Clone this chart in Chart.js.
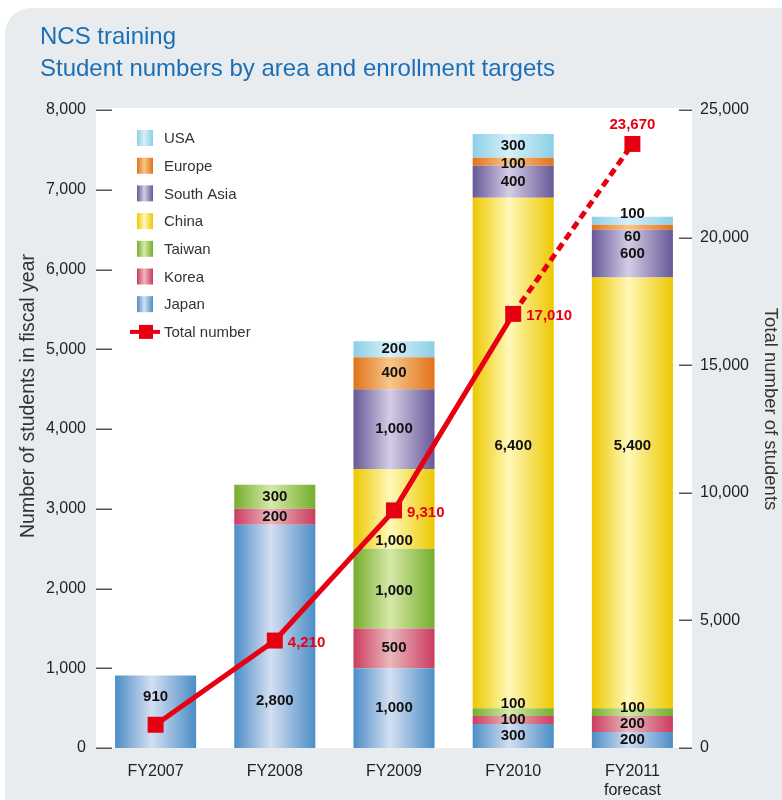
<!DOCTYPE html>
<html>
<head>
<meta charset="utf-8">
<script src="https://cdn.jsdelivr.net/npm/chart.js@4.4.0/dist/chart.umd.min.js"></script>
<style>
  html, body { margin: 0; padding: 0; background: #fff; }
  #wrap { width: 782px; height: 800px; }
</style>
</head>
<body>
<div id="wrap"><canvas id="ncsChart" width="782" height="800"></canvas></div>
<script>
// values
const categories = ['FY2007', 'FY2008', 'FY2009', 'FY2010', ['FY2011', 'forecast']];
const japan = [910, 2800, 1000, 300, 200];
const korea = [0, 200, 500, 100, 200];
const taiwan = [0, 300, 1000, 100, 100];
const china = [0, 0, 1000, 6400, 5400];
const southAsia = [0, 0, 1000, 400, 600];
const europe = [0, 0, 400, 100, 60];
const usa = [0, 0, 200, 300, 100];
const totals = [910, 4210, 9310, 17010, 23670];
const leftMax = 8000, leftStep = 1000;
const rightMax = 25000, rightStep = 5000;

const FONT = '"Liberation Sans", Arial, Helvetica, sans-serif';
const BAR_PCT = 0.68;
const RED = '#e60012';

// edge colour, centre highlight
const palette = {
    Japan: ['#4b8dc6', '#d4dff2'],
    Korea: ['#cc3b60', '#e9b9bc'],
    Taiwan: ['#76ad2c', '#d6e9a9'],
    China: ['#edc800', '#fff8b8'],
    'South Asia': ['#675897', '#d5cde6'],
    Europe: ['#e1731a', '#f8c688'],
    USA: ['#8ccfe7', '#d8f0f8']
};

function barFill(name) {
    const [edge, mid] = palette[name];
    return function (c) {
        const chart = c.chart;
        if (!chart.chartArea || c.dataIndex === undefined) return edge;
        const xs = chart.scales.x;
        const cx = xs.getPixelForValue(c.dataIndex);
        const half = xs.width / categories.length * BAR_PCT / 2;
        const g = chart.ctx.createLinearGradient(cx - half, 0, cx + half, 0);
        g.addColorStop(0, edge);
        g.addColorStop(0.45, mid);
        g.addColorStop(1, edge);
        return g;
    };
}

function barSet(name, data) {
    return {
        type: 'bar',
        label: name,
        data: data,
        backgroundColor: barFill(name),
        borderWidth: 0,
        stack: 'areas',
        yAxisID: 'y',
        order: 1,
        barPercentage: BAR_PCT,
        categoryPercentage: 1
    };
}

const fmt = v => v.toLocaleString('en-US');

// small label shifts so texts do not collide (datasetIndex-dataIndex: px)
const labelNudge = {
    '0-0': -15, '0-1': 65, '2-2': 2, '3-2': 32,
    '2-3': -8, '3-3': -7, '5-3': 2,
    '6-4': -7, '5-4': 10, '3-4': -47, '2-4': -4
};

const decor = {
    id: 'decor',
    beforeDraw(chart) {
        const ctx = chart.ctx;
        const a = chart.chartArea;
        ctx.save();
        ctx.fillStyle = '#fff';
        ctx.fillRect(0, 0, chart.width, chart.height);
        ctx.fillStyle = '#e8ecef';
        ctx.beginPath();
        ctx.roundRect(5, 8, chart.width + 40, chart.height + 40, 26);
        ctx.fill();
        ctx.fillStyle = '#fff';
        ctx.fillRect(a.left, a.top - 2, a.right - a.left, a.bottom - a.top + 2);
        ctx.restore();
    },
    beforeDatasetsDraw(chart) {
        const ctx = chart.ctx;
        const a = chart.chartArea;
        const y = chart.scales.y, y1 = chart.scales.y1;
        ctx.save();
        ctx.strokeStyle = '#555';
        ctx.lineWidth = 1.5;
        for (let v = 0; v <= leftMax; v += leftStep) {
            const p = Math.round(y.getPixelForValue(v)) + 0.25;
            ctx.beginPath(); ctx.moveTo(a.left, p); ctx.lineTo(a.left + 16, p); ctx.stroke();
        }
        for (let v = 0; v <= rightMax; v += rightStep) {
            const p = Math.round(y1.getPixelForValue(v)) + 0.25;
            ctx.beginPath(); ctx.moveTo(a.right - 13, p); ctx.lineTo(a.right, p); ctx.stroke();
        }
        ctx.restore();
    },
    afterDatasetsDraw(chart) {
        const ctx = chart.ctx;
        ctx.save();
        // values inside the bars
        ctx.font = 'bold 15px ' + FONT;
        ctx.fillStyle = '#111';
        ctx.textAlign = 'center';
        ctx.textBaseline = 'middle';
        chart.data.datasets.forEach((ds, di) => {
            if (ds.type !== 'bar') return;
            chart.getDatasetMeta(di).data.forEach((bar, i) => {
                const v = ds.data[i];
                if (!v) return;
                const dy = labelNudge[di + '-' + i] || 0;
                ctx.fillText(fmt(v), bar.x, (bar.y + bar.base) / 2 + dy);
            });
        });
        // total labels
        const lineIdx = chart.data.datasets.findIndex(d => d.type === 'line');
        const pts = chart.getDatasetMeta(lineIdx).data;
        ctx.fillStyle = RED;
        ctx.font = 'bold 15px ' + FONT;
        pts.forEach((p, i) => {
            if (i === 0) return;
            if (i === pts.length - 1) {
                ctx.textAlign = 'center';
                ctx.fillText(fmt(totals[i]), p.x, p.y - 19);
            } else {
                ctx.textAlign = 'left';
                ctx.fillText(fmt(totals[i]), p.x + 13, p.y + 2);
            }
        });

        // legend
        const names = ['USA', 'Europe', 'South Asia', 'China', 'Taiwan', 'Korea', 'Japan'];
        ctx.font = '15px ' + FONT;
        ctx.textAlign = 'left';
        names.forEach((n, k) => {
            const cy = 138 + k * 27.7;
            const [edge, mid] = palette[n];
            const g = ctx.createLinearGradient(137, 0, 153, 0);
            g.addColorStop(0, edge); g.addColorStop(0.45, mid); g.addColorStop(1, edge);
            ctx.fillStyle = g;
            ctx.fillRect(137, cy - 8, 16, 16);
            ctx.fillStyle = '#333';
            ctx.fillText(n, 164, cy + 1);
        });
        const ly = 138 + 7 * 27.7;
        ctx.strokeStyle = RED;
        ctx.lineWidth = 4;
        ctx.beginPath(); ctx.moveTo(130, ly); ctx.lineTo(160, ly); ctx.stroke();
        ctx.fillStyle = RED;
        ctx.fillRect(139, ly - 7, 14, 14);
        ctx.fillStyle = '#333';
        ctx.fillText('Total number', 164, ly + 1);

        // titles
        ctx.fillStyle = '#1b6fb6';
        ctx.font = '24px ' + FONT;
        ctx.fillText('NCS training', 40, 37);
        ctx.fillText('Student numbers by area and enrollment targets', 40, 69);

        // axis titles
        ctx.fillStyle = '#333';
        ctx.textAlign = 'center';
        ctx.save();
        ctx.font = '19.5px ' + FONT;
        ctx.translate(29, 396);
        ctx.rotate(-Math.PI / 2);
        ctx.fillText('Number of students in fiscal year', 0, 0);
        ctx.restore();
        ctx.save();
        ctx.font = '18.5px ' + FONT;
        ctx.translate(770, 409);
        ctx.rotate(Math.PI / 2);
        ctx.fillText('Total number of students', 0, 0);
        ctx.restore();
        ctx.restore();
    }
};

document.addEventListener('DOMContentLoaded', function () {
    Chart.defaults.font.family = FONT;
    const ctx = document.getElementById('ncsChart').getContext('2d');
    const ncsChart = new Chart(ctx, {
        type: 'bar',
        data: {
            labels: categories,
            datasets: [
                barSet('Japan', japan),
                barSet('Korea', korea),
                barSet('Taiwan', taiwan),
                barSet('China', china),
                barSet('South Asia', southAsia),
                barSet('Europe', europe),
                barSet('USA', usa),
                {
                    type: 'line',
                    label: 'Total number',
                    data: totals,
                    yAxisID: 'y1',
                    order: 0,
                    borderColor: RED,
                    backgroundColor: RED,
                    borderWidth: 5,
                    tension: 0,
                    pointStyle: 'rect',
                    pointRadius: 11.3,
                    pointBorderWidth: 0,
                    pointBackgroundColor: RED,
                    clip: false,
                    segment: {
                        borderDash: c => c.p0DataIndex === 3 ? [8, 5] : undefined
                    }
                }
            ]
        },
        options: {
            responsive: false,
            animation: false,
            layout: { padding: { top: 110, left: 0, right: 0, bottom: 0 } },
            scales: {
                x: {
                    stacked: true,
                    grid: { display: false, drawTicks: false },
                    border: { display: false },
                    ticks: { color: '#222', font: { size: 16 }, padding: 14 },
                    afterFit: s => { s.height = 52; }
                },
                y: {
                    stacked: true,
                    position: 'left',
                    min: 0,
                    max: leftMax,
                    grid: { display: false, drawTicks: false },
                    border: { display: false },
                    ticks: { stepSize: leftStep, color: '#222', font: { size: 16 }, padding: 10, callback: v => fmt(v) },
                    afterFit: s => { s.width = 96; }
                },
                y1: {
                    position: 'right',
                    min: 0,
                    max: rightMax,
                    grid: { display: false, drawTicks: false },
                    border: { display: false },
                    ticks: { stepSize: rightStep, color: '#222', font: { size: 16 }, padding: 8, callback: v => fmt(v) },
                    afterFit: s => { s.width = 90; }
                }
            },
            plugins: {
                legend: { display: false },
                tooltip: { enabled: false }
            }
        },
        plugins: [decor]
    });
});
</script>
</body>
</html>
